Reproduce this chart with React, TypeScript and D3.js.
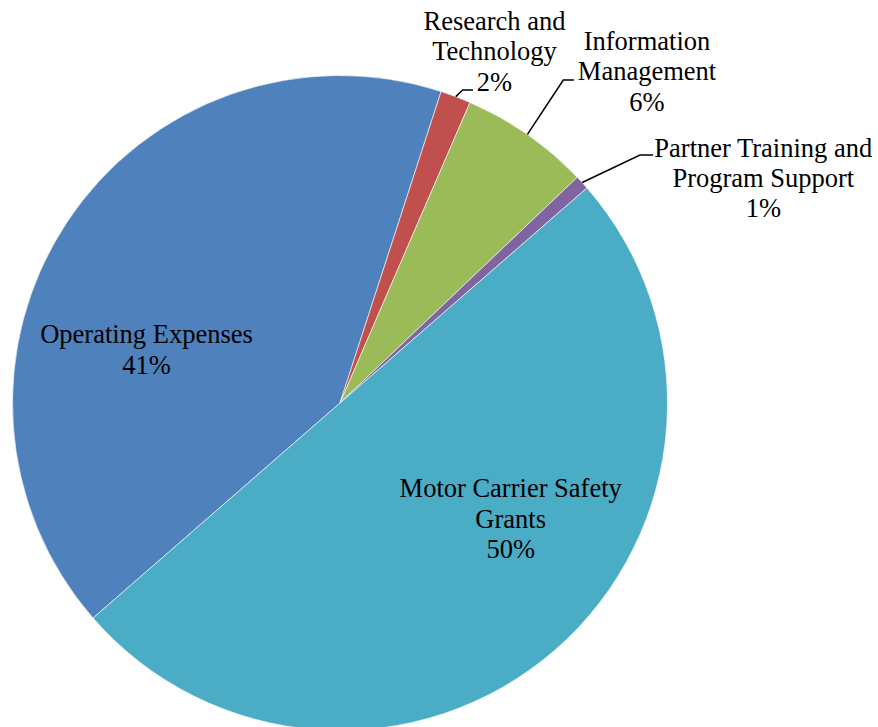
import React from "react";
import * as d3 from "d3";

const categories = [
  "Operating Expenses",
  "Research and Technology",
  "Information Management",
  "Partner Training and Program Support",
  "Motor Carrier Safety Grants",
];
const values = [41.4, 1.5, 6.4, 0.7, 50.0];
const percentLabels = ["41%", "2%", "6%", "1%", "50%"];
const labelLines = [
  ["Operating Expenses", "41%"],
  ["Research and", "Technology", "2%"],
  ["Information", "Management", "6%"],
  ["Partner Training and", "Program Support", "1%"],
  ["Motor Carrier Safety", "Grants", "50%"],
];
const colors = ["#4F81BD", "#C0504D", "#9BBB59", "#8064A2", "#4BACC6"];

// layout (not data)
const W = 878;
const H = 727;
const CX = 340;
const CY = 403;
const R = 327.5;
const START_DEG = 228.95;
const FONT = 26.5;
const LINE_H = 30.3;
const FONT_FAMILY = "Liberation Serif";
const labelLayout: { x: number; y: number; leader: null | { elbow: [number, number]; end: [number, number] } }[] = [
  { x: 146.5, y: 343.3, leader: null },
  { x: 494.5, y: 30, leader: { elbow: [462.7, 90], end: [473, 90] } },
  { x: 647, y: 50, leader: { elbow: [563.3, 80], end: [574, 80] } },
  { x: 763.3, y: 156.7, leader: { elbow: [640, 155], end: [653, 155] } },
  { x: 510.7, y: 497.3, leader: null },
];

export default function App() {
  const start = (START_DEG * Math.PI) / 180;
  const pie = d3
    .pie<number>()
    .sort(null)
    .value((d) => d)
    .startAngle(start)
    .endAngle(start + 2 * Math.PI);
  const arcs = pie(values);
  const arc = d3.arc<d3.PieArcDatum<number>>().innerRadius(0).outerRadius(R);
  const line = d3.line();

  return (
    <svg
      width={W}
      height={H}
      style={{ position: "absolute", left: 0, top: 0, background: "#fff" }}
    >
      <g transform={`translate(${CX},${CY})`}>
        {arcs.map((a, i) => (
          <path
            key={categories[i]}
            d={arc(a) as string}
            fill={colors[i]}
            stroke="#ffffff"
            strokeWidth={0.6}
          >
            <title>{`${categories[i]}: ${percentLabels[i]}`}</title>
          </path>
        ))}
      </g>
      {arcs.map((a, i) => {
        const lay = labelLayout[i];
        if (!lay.leader) return null;
        const mid = (a.startAngle + a.endAngle) / 2;
        const sx = CX + R * Math.sin(mid);
        const sy = CY - R * Math.cos(mid);
        return (
          <path
            key={"l" + i}
            d={line([[sx, sy], lay.leader.elbow, lay.leader.end]) as string}
            fill="none"
            stroke="#000"
            strokeWidth={1.5}
          />
        );
      })}
      {labelLines.map((lines, i) => {
        const lay = labelLayout[i];
        return (
          <text
            key={"t" + i}
            textAnchor="middle"
            fontSize={FONT}
            fill="#000"
            style={{ fontFamily: FONT_FAMILY }}
          >
            {lines.map((ln, k) => (
              <tspan key={k} x={lay.x} y={lay.y + k * LINE_H}>
                {ln}
              </tspan>
            ))}
          </text>
        );
      })}
    </svg>
  );
}
